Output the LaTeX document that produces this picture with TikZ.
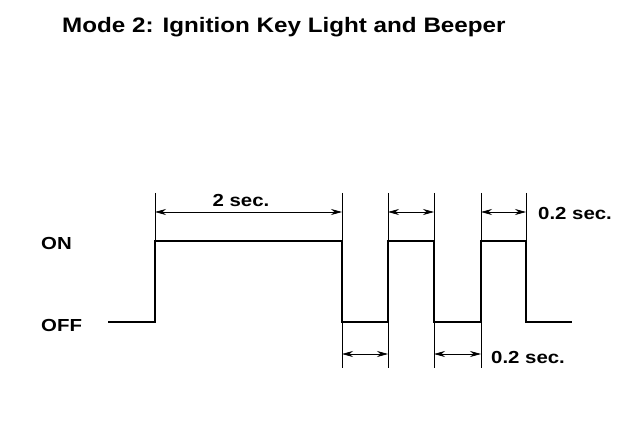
\documentclass[tikz,border=0pt]{standalone}
\usepackage{fontspec}
\setmainfont{Liberation Sans}
\usetikzlibrary{arrows.meta}
\newcommand{\wtxt}[1]{\scalebox{1.17}[1]{#1}}
\begin{document}
\begin{tikzpicture}[x=1bp,y=-1bp,
  wave/.style={line width=1.8bp,line join=miter},
  ext/.style={line width=0.9bp},
  dim/.style={line width=0.7bp,{Stealth[length=11bp,width=6bp]}-{Stealth[length=11bp,width=6bp]}},
  lbl/.style={font=\bfseries\fontsize{17.5}{20}\selectfont,inner sep=0pt},
  ttl/.style={font=\bfseries\fontsize{21}{25}\selectfont,inner sep=0pt,anchor=base west}]
\useasboundingbox[fill=white] (0,0) rectangle (640,442);
% title
\node[ttl] (title) at (62,33) {\scalebox{1.157}[1]{Mode 2: Ignition Key Light and Beeper}};
% level labels
\node[lbl,anchor=base west] (on) at (41,250) {\wtxt{ON}};
\node[lbl,anchor=base west] (off) at (41,331) {\wtxt{OFF}};
% waveform points
\coordinate (p0) at (108,322);
\coordinate (p1) at (155,322);
\coordinate (p2) at (155,241);
\coordinate (p3) at (342,241);
\coordinate (p4) at (342,322);
\coordinate (p5) at (388,322);
\coordinate (p6) at (388,241);
\coordinate (p7) at (434,241);
\coordinate (p8) at (434,322);
\coordinate (p9) at (481,322);
\coordinate (p10) at (481,241);
\coordinate (p11) at (526,241);
\coordinate (p12) at (526,322);
\coordinate (p13) at (572,322);
\draw[wave] (p0) -- (p1) -- (p2) -- (p3) -- (p4) -- (p5) -- (p6) -- (p7) -- (p8) -- (p9) -- (p10) -- (p11) -- (p12) -- (p13);
% upper extension lines
\foreach \n/\x in {a/155,b/342,c/388,d/434,e/481,f/526}{
  \coordinate (t\n) at (\x,193);
  \coordinate (u\n) at (\x,212);
}
\draw[ext] (ta) -- (p2);
\draw[ext] (tb) -- (p3);
\draw[ext] (tc) -- (p6);
\draw[ext] (td) -- (p7);
\draw[ext] (te) -- (p10);
\draw[ext] (tf) -- (p11);
% lower extension lines
\foreach \n/\x in {b/342,c/388,d/434,e/481}{
  \coordinate (b\n) at (\x,368);
  \coordinate (l\n) at (\x,354);
}
\draw[ext] (p4) -- (bb);
\draw[ext] (p5) -- (bc);
\draw[ext] (p8) -- (bd);
\draw[ext] (p9) -- (be);
% dimension arrows
\draw[dim] (ua) -- (ub);
\draw[dim] (uc) -- (ud);
\draw[dim] (ue) -- (uf);
\draw[dim] (lb) -- (lc);
\draw[dim] (ld) -- (le);
% labels
\node[lbl,anchor=base] (t2) at (241,207) {\wtxt{2 sec.}};
\node[lbl,anchor=base west] (t02a) at (538,220) {\wtxt{0.2 sec.}};
\node[lbl,anchor=base west] (t02b) at (491,363) {\wtxt{0.2 sec.}};
\end{tikzpicture}
\end{document}
